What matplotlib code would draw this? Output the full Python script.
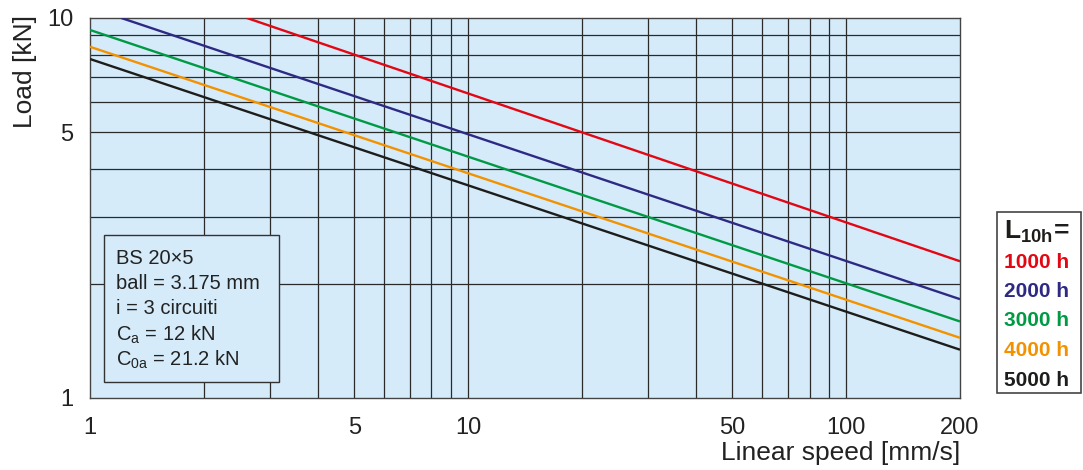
import matplotlib
matplotlib.use("Agg")
import matplotlib.pyplot as plt
from matplotlib.patches import Rectangle

plt.rcParams['font.family'] = ['Liberation Sans', 'DejaVu Sans']
plt.rcParams['mathtext.fontset'] = 'custom'
plt.rcParams['mathtext.rm'] = 'Liberation Sans'
plt.rcParams['mathtext.bf'] = 'Liberation Sans:bold'

# life curves: start point (speed, load) and load at 200 mm/s
life_labels = ['1000 h', '2000 h', '3000 h', '4000 h', '5000 h']
colors = ['#e30613', '#2e2a84', '#009a44', '#f39200', '#1d1d1b']
speed_start = [2.6, 1.21, 1.0, 1.0, 1.0]
load_start = [10.0, 10.0, 9.3, 8.4, 7.8]
speed_end = [200, 200, 200, 200, 200]
load_end = [2.29, 1.82, 1.59, 1.44, 1.34]

x_ticks = [1, 5, 10, 50, 100, 200]
y_ticks = [1, 5, 10]
x_grid = [2, 3, 4, 5, 6, 7, 8, 9, 10, 20, 30, 40, 50, 60, 70, 80, 90, 100]
y_grid = [2, 3, 4, 5, 6, 7, 8, 9]

info = ['BS 20×5', 'ball = 3.175 mm', 'i = 3 circuiti',
        r'C$_\mathrm{a}$ = 12 kN', r'C$_\mathrm{0a}$ = 21.2 kN']

W, H = 1083, 470
fig = plt.figure(figsize=(W / 100, H / 100), dpi=100)
ax = fig.add_axes([90 / W, (H - 398) / H, 870 / W, 380 / H])
ax.set_facecolor('#d5ebf9')
ax.set_xscale('log')
ax.set_yscale('log')
ax.set_xlim(1, 200)
ax.set_ylim(1, 10)

for g in x_grid:
    ax.axvline(g, color='#2a2a2a', lw=0.9, zorder=1)
for g in y_grid:
    ax.axhline(g, color='#2a2a2a', lw=0.9, zorder=1)

for i in range(len(life_labels)):
    ax.plot([speed_start[i], speed_end[i]], [load_start[i], load_end[i]],
            color=colors[i], lw=1.7, zorder=3, solid_capstyle='butt')

ax.xaxis.set_minor_locator(matplotlib.ticker.NullLocator())
ax.yaxis.set_minor_locator(matplotlib.ticker.NullLocator())
ax.set_xticks(x_ticks)
ax.set_xticklabels([str(t) for t in x_ticks])
ax.set_yticks(y_ticks)
ax.set_yticklabels([str(t) for t in y_ticks])
ax.tick_params(length=0, labelsize=17, labelcolor='#222222')
ax.tick_params(axis='x', pad=14)
ax.tick_params(axis='y', pad=12)
for s in ax.spines.values():
    s.set_color('#444444')
    s.set_linewidth(1.0)

fig.text(25 / W, 1 - 72 / H, 'Load [kN]', rotation=90, fontsize=19,
         color='#222222', ha='center', va='center')
fig.text(960 / W, 1 - 453 / H, 'Linear speed [mm/s]', fontsize=19,
         color='#222222', ha='right', va='center')

# info box
ax.add_patch(Rectangle((14 / 870, 16 / 380), 175 / 870, 147 / 380,
                       transform=ax.transAxes, facecolor='#d5ebf9',
                       edgecolor='#333333', lw=1.0, zorder=5))
for k, line in enumerate(info):
    ax.text(26 / 870, (398 - (258 + 25.5 * k)) / 380, line,
            transform=ax.transAxes, fontsize=14.5, color='#222222',
            va='center', ha='left', zorder=6)

# legend box
fig.patches.append(Rectangle((997 / W, 1 - 393 / H), 84 / W, 181 / H,
                             transform=fig.transFigure, facecolor='white',
                             edgecolor='#444444', lw=1.2))
fig.text(1004 / W, 1 - 232 / H, r'$\mathbf{L_{10h}\!=}$', fontsize=19,
         color='#1d1d1b', ha='left', va='center')
for i, lab in enumerate(life_labels):
    fig.text(1004 / W, 1 - (262 + 29.5 * i) / H, lab, fontsize=15,
             fontweight='bold', color=colors[i], ha='left', va='center')

fig.savefig('out.png', dpi=100)
